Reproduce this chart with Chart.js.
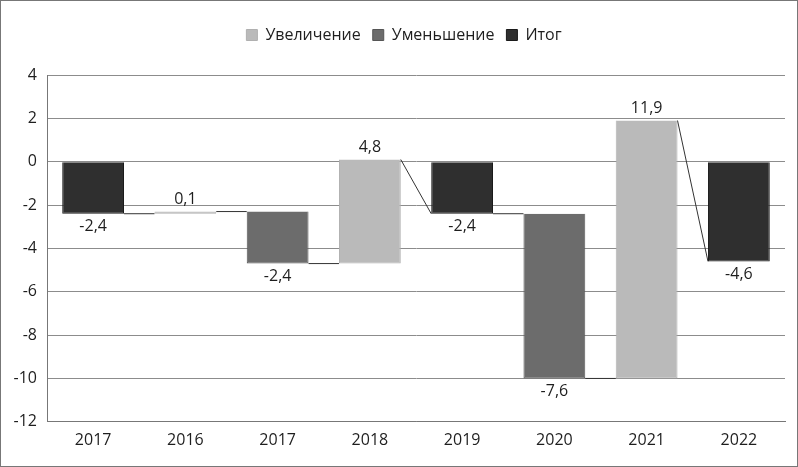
<!DOCTYPE html>
<html>
<head>
<meta charset="utf-8">
<script src="https://cdn.jsdelivr.net/npm/chart.js@4/dist/chart.umd.min.js"></script>
<style>
  body { margin: 0; background: #fff; }
  #wrap { width: 798px; height: 467px; box-sizing: border-box; border: 1px solid #777; background: #fff; }
  canvas { display: block; }
</style>
</head>
<body>
<div id="wrap"><canvas id="myChart" width="796" height="465"></canvas></div>
<script>
// данные водопада
const years = ['2017', '2016', '2017', '2018', '2019', '2020', '2021', '2022'];
const changes = [-2.4, 0.1, -2.4, 4.8, -2.4, -7.6, 11.9, -4.6];
const kinds = ['total', 'up', 'down', 'up', 'total', 'down', 'up', 'total'];
const yTicks = [4, 2, 0, -2, -4, -6, -8, -10, -12];

const colUp = '#bababa', colDown = '#6c6c6c', colTotal = '#2f2f2f';
const font = "'Open Sans', 'DejaVu Sans', sans-serif";

// начало и конец каждого столбика
let level = 0;
const spans = [];
changes.forEach((v, i) => {
  if (kinds[i] == 'total') { spans.push([0, v]); level = v; }
  else { spans.push([level, level + v]); level = level + v; }
});

const upData = spans.map((s, i) => kinds[i] == 'up' ? s : null);
const downData = spans.map((s, i) => kinds[i] == 'down' ? s : null);
const totalData = spans.map((s, i) => kinds[i] == 'total' ? s : null);

function barAt(chart, i) {
  for (let d = 0; d < chart.data.datasets.length; d++) {
    if (chart.data.datasets[d].data[i] != null) return chart.getDatasetMeta(d).data[i];
  }
  return null;
}

const waterfallExtras = {
  id: 'waterfallExtras',
  beforeInit(chart) {
    const fit = chart.legend.fit;
    chart.legend.fit = function () { fit.bind(chart.legend)(); this.height += 22; };
  },
  afterLayout(chart) {
    // легенда чуть правее, как в оригинале
    chart.legend.left += 11;
    chart.legend.right += 11;
  },
  afterDatasetsDraw(chart) {
    const ctx = chart.ctx, y = chart.scales.y;
    ctx.save();
    // соединительные линии
    ctx.strokeStyle = '#333';
    ctx.lineWidth = 1;
    for (let i = 0; i < years.length - 1; i++) {
      const a = barAt(chart, i), b = barAt(chart, i + 1);
      const from = spans[i][1];
      const to = kinds[i + 1] == 'total' ? spans[i + 1][1] : spans[i + 1][0];
      ctx.beginPath();
      ctx.moveTo(a.x + a.width / 2, y.getPixelForValue(from));
      ctx.lineTo(b.x - b.width / 2, y.getPixelForValue(to));
      ctx.stroke();
    }
    // подписи значений
    ctx.fillStyle = '#1e1e1e';
    ctx.font = '16px ' + font;
    ctx.textAlign = 'center';
    ctx.textBaseline = 'middle';
    for (let i = 0; i < years.length; i++) {
      const b = barAt(chart, i);
      const py = y.getPixelForValue(spans[i][1]);
      const txt = changes[i].toFixed(1).replace('.', ',');
      ctx.fillText(txt, b.x, changes[i] > 0 ? py - 12 : py + 13);
    }
    ctx.restore();
  }
};

const ctx = document.getElementById('myChart');
new Chart(ctx, {
  type: 'bar',
  data: {
    labels: years,
    datasets: [
      { label: 'Увеличение', data: upData, backgroundColor: colUp, borderColor: '#b0b0b0', borderWidth: 1, grouped: false },
      { label: 'Уменьшение', data: downData, backgroundColor: colDown, borderColor: '#555', borderWidth: 1, grouped: false },
      { label: 'Итог', data: totalData, backgroundColor: colTotal, borderColor: '#1a1a1a', borderWidth: 1, grouped: false }
    ]
  },
  options: {
    responsive: false,
    animation: false,
    layout: { padding: { left: 0, right: 12, top: 14, bottom: 7 } },
    datasets: { bar: { barPercentage: 0.67, categoryPercentage: 1 } },
    plugins: {
      legend: {
        position: 'top',
        labels: { boxWidth: 11, boxHeight: 11, padding: 12, color: '#1e1e1e', font: { family: font, size: 16 } }
      },
      tooltip: { enabled: false }
    },
    scales: {
      x: {
        grid: { display: false, drawTicks: false },
        border: { display: true, color: '#777' },
        ticks: { color: '#1e1e1e', padding: 9, font: { family: font, size: 16 } }
      },
      y: {
        min: -12, max: 4,
        afterBuildTicks(scale) { scale.ticks = yTicks.map(v => ({ value: v })); },
        afterFit(scale) { scale.width = 46; },
        grid: { color: '#8c8c8c', drawTicks: false },
        border: { display: true, color: '#777' },
        ticks: { color: '#1e1e1e', padding: 10, font: { family: font, size: 16 }, callback: v => String(v) }
      }
    }
  },
  plugins: [waterfallExtras]
});
</script>
</body>
</html>
